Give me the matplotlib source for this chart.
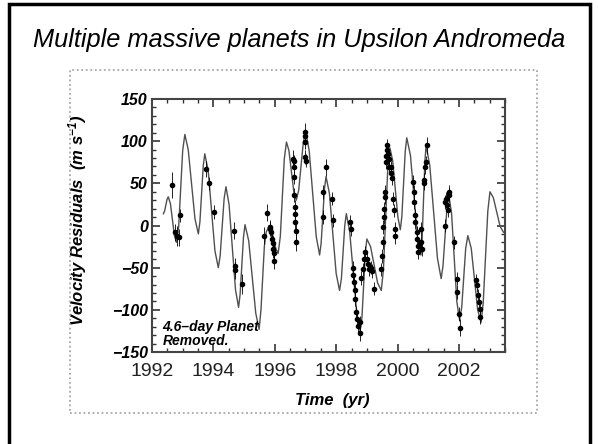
import matplotlib
matplotlib.use("Agg")
import matplotlib.pyplot as plt
from matplotlib.patches import Rectangle
from matplotlib.ticker import MultipleLocator

plt.rcParams['font.family'] = ['Liberation Sans', 'DejaVu Sans']
plt.rcParams['mathtext.fontset'] = 'custom'
plt.rcParams['mathtext.rm'] = 'Liberation Sans:italic:bold'
plt.rcParams['mathtext.it'] = 'Liberation Sans:italic:bold'
plt.rcParams['mathtext.default'] = 'rm'

# two-planet fit (year, m/s)
fit_t = [1992.37, 1992.41, 1992.49, 1992.53, 1992.60, 1992.73, 1992.80, 1992.87, 1993.00, 1993.07,
         1993.18, 1993.40, 1993.51, 1993.56, 1993.67, 1993.72, 1993.83, 1994.05, 1994.16, 1994.22,
         1994.35, 1994.41, 1994.51, 1994.72, 1994.82, 1994.87, 1994.98, 1995.03, 1995.15, 1995.38,
         1995.49, 1995.55, 1995.66, 1995.72, 1995.82, 1995.89, 1996.04, 1996.11, 1996.18, 1996.31,
         1996.38, 1996.46, 1996.62, 1996.70, 1996.78, 1996.93, 1997.01, 1997.12, 1997.35, 1997.46,
         1997.51, 1997.62, 1997.67, 1997.78, 1998.00, 1998.11, 1998.17, 1998.28, 1998.33, 1998.44,
         1998.67, 1998.78, 1998.84, 1998.95, 1999.00, 1999.12, 1999.35, 1999.47, 1999.54, 1999.68,
         1999.75, 1999.84, 2000.01, 2000.09, 2000.14, 2000.25, 2000.30, 2000.42, 2000.65, 2000.76,
         2000.80, 2000.89, 2000.93, 2001.05, 2001.30, 2001.42, 2001.48, 2001.61, 2001.67, 2001.76,
         2001.93, 2002.02, 2002.09, 2002.22, 2002.29, 2002.40, 2002.61, 2002.72, 2002.79, 2002.94,
         2003.01, 2003.12, 2003.34, 2003.45]
fit_v = [14, 17, 31, 34, 26, -12, -20, -1, 89, 108,
         90, 8, -10, 4, 71, 85, 65, -30, -50, -36,
         32, 46, 25, -76, -97, -82, -14, 1, -18, -104,
         -123, -100, -25, -8, 0, -5, -28, -33, -13, 79,
         99, 89, 40, 30, 42, 99, 111, 89, -13, -35,
         -21, 44, 58, 38, -57, -77, -63, 0, 14, -7,
         -104, -125, -109, -32, -16, -25, -68, -77, -52, 67,
         92, 77, 10, -5, 11, 88, 104, 83, -14, -35,
         -16, 76, 95, 71, -39, -63, -48, 21, 36, 14,
         -90, -112, -97, -27, -12, -27, -100, -115, -92, 17,
         40, 33, -1, -8]

# observed residuals (year, m/s, error)
obs_t = [1992.66, 1992.75, 1992.82, 1992.88, 1992.91, 1993.76, 1993.86, 1994.02, 1994.66, 1994.70,
         1994.72, 1994.92, 1995.64, 1995.75, 1995.84, 1995.86, 1995.89, 1995.91, 1995.93, 1995.95,
         1995.97, 1995.98, 1996.60, 1996.61, 1996.62, 1996.62, 1996.64, 1996.65, 1996.66, 1996.67,
         1996.68, 1996.68, 1996.97, 1996.98, 1996.99, 1997.00, 1997.01, 1997.57, 1997.58, 1997.66,
         1997.88, 1997.91, 1998.46, 1998.47, 1998.55, 1998.56, 1998.58, 1998.60, 1998.62, 1998.66,
         1998.69, 1998.72, 1998.76, 1998.78, 1998.80, 1998.87, 1998.90, 1998.93, 1998.99, 1999.05,
         1999.08, 1999.12, 1999.16, 1999.22, 1999.47, 1999.50, 1999.52, 1999.54, 1999.56, 1999.57,
         1999.58, 1999.60, 1999.61, 1999.63, 1999.65, 1999.67, 1999.69, 1999.72, 1999.73, 1999.77,
         1999.80, 1999.82, 1999.85, 1999.87, 1999.91, 1999.93, 2000.50, 2000.52, 2000.55, 2000.57,
         2000.58, 2000.62, 2000.63, 2000.66, 2000.68, 2000.75, 2000.77, 2000.79, 2000.85, 2000.87,
         2000.90, 2000.92, 2000.95, 2001.53, 2001.56, 2001.58, 2001.61, 2001.64, 2001.66, 2001.68,
         2001.85, 2001.92, 2001.95, 2001.99, 2002.02, 2002.55, 2002.59, 2002.61, 2002.64, 2002.67,
         2002.70]
obs_v = [48, -8, -12, -14, 12, 67, 50, 16, -6, -48,
         -53, -69, -12, 15, -2, -4, -8, -16, -21, -28,
         -42, -33, 79, 76, 69, 57, 36, 22, 14, 4,
         -6, -20, 111, 106, 99, 81, 77, 40, 10, 69,
         32, 6, 4, -4, -50, -59, -67, -77, -87, -103,
         -111, -119, -127, -115, -62, -52, -40, -32, -40, -46,
         -52, -50, -54, -75, -52, -36, -20, -2, 10, 20,
         34, 40, 75, 83, 89, 95, 85, 79, 69, 62,
         69, 56, 32, 18, -4, -12, 52, 40, 28, 12,
         4, -8, -16, -24, -32, -4, -20, -28, 50, 54,
         69, 75, 95, 0, 28, 32, 24, 18, 36, 40,
         -20, -63, -79, -105, -121, -65, -71, -83, -91, -99,
         -109]
obs_e = [15, 10, 12, 10, 8, 10, 8, 8, 10, 10,
         10, 12, 10, 10, 8, 8, 8, 8, 8, 10,
         10, 10, 10, 8, 8, 8, 8, 8, 8, 10,
         10, 10, 10, 8, 8, 8, 8, 8, 8, 10,
         8, 8, 8, 8, 8, 8, 8, 8, 8, 8,
         8, 8, 10, 8, 8, 8, 8, 8, 8, 8,
         8, 8, 8, 8, 8, 8, 8, 8, 8, 8,
         8, 8, 8, 8, 8, 8, 8, 8, 8, 8,
         8, 8, 8, 8, 8, 10, 8, 8, 8, 8,
         8, 8, 8, 8, 8, 8, 8, 8, 8, 8,
         8, 8, 10, 8, 8, 8, 8, 8, 8, 8,
         8, 8, 8, 8, 10, 8, 8, 8, 8, 8,
         8]

fig = plt.figure(figsize=(5.98, 4.44), dpi=100)

# slide frame and dotted picture frame
fig.add_artist(Rectangle((9 / 598, -0.05), 581 / 598, 1.05 - 4 / 444, transform=fig.transFigure,
                         fill=False, ec='black', lw=2.5))
fig.add_artist(Rectangle((70 / 598, 1 - 413 / 444), 467 / 598, 343 / 444, transform=fig.transFigure,
                         fill=False, ec='#a8a8a8', lw=1.3, ls=(0, (1, 1.5))))

fig.text(0.5, 1 - 47 / 444, 'Multiple massive planets in Upsilon Andromeda',
         ha='center', va='baseline', fontsize=18.3, style='italic')

ax = fig.add_axes([152 / 598, 1 - 352 / 444, 353 / 598, 253 / 444])
ax.plot(fit_t, fit_v, color='#505050', lw=1.0)
ax.errorbar(obs_t, obs_v, yerr=obs_e, fmt='o', color='black', ms=3.0, elinewidth=0.6, capsize=0)

ax.set_xlim(1992, 2003.5)
ax.set_ylim(-150, 150)
ax.xaxis.set_major_locator(MultipleLocator(2))
ax.xaxis.set_minor_locator(MultipleLocator(0.5))
ax.yaxis.set_major_locator(MultipleLocator(50))
ax.yaxis.set_minor_locator(MultipleLocator(10))
ax.tick_params(which='both', direction='in', top=True, right=True, color='#333333')
ax.tick_params(which='major', length=6, width=1.2)
ax.tick_params(which='minor', length=3, width=1.0)
ax.tick_params(axis='x', labelsize=14, pad=8, labelcolor='#222222')
ax.tick_params(axis='y', labelsize=11.5, pad=3)
for lbl in ax.get_yticklabels():
    lbl.set_fontweight('bold')
    lbl.set_style('italic')
for sp in ax.spines.values():
    sp.set_linewidth(1.5)
    sp.set_color('#444444')

ax.set_ylabel(r'Velocity Residuals  (m s$^{-1}$)', fontsize=12, fontweight='bold', style='italic')
ax.yaxis.set_label_coords(-0.178, 0.52)
ax.set_xlabel('Time  (yr)', fontsize=12, fontweight='bold', style='italic')
ax.xaxis.set_label_coords(0.51, -0.162)

ax.text(0.03, 0.015, '4.6\u2013day Planet\nRemoved.', transform=ax.transAxes, fontsize=10,
        fontweight='bold', style='italic', va='bottom', ha='left', linespacing=1.05)

fig.savefig('out.png', dpi=100)
